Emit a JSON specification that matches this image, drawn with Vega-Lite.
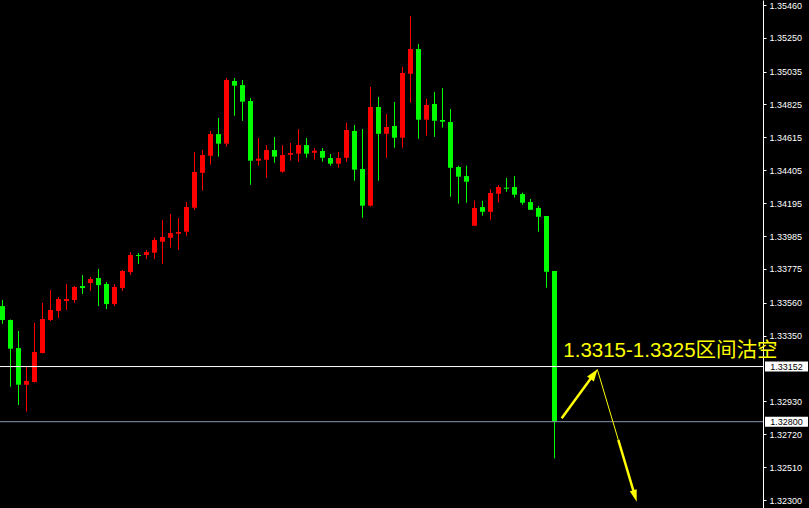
{
  "$schema": "https://vega.github.io/schema/vega-lite/v6.json",
  "width": 763,
  "height": 508,
  "autosize": "none",
  "padding": {"left": 0, "top": 0, "right": 46, "bottom": 0},
  "background": "#000000",
  "config": {
    "view": {"stroke": null},
    "axis": {"labelOverlap": false},
    "axisY": {"labelOverlap": false, "labelFlush": false, "labelBound": false, "grid": false, "title": null,
              "labelFont": "Liberation Sans", "labelFontSize": 9, "labelColor": "#ffffff",
              "tickColor": "#ffffff", "domainColor": "#ffffff", "tickSize": 3, "labelPadding": 3}
  },
  "data": {"values": [{}]},
  "datasets": {
    "candles": [
      {"i":0,"o":1.33538,"h":1.33577,"l":1.33425,"c":1.33449},
      {"i":1,"o":1.33449,"h":1.33452,"l":1.33023,"c":1.33266},
      {"i":2,"o":1.33270,"h":1.33379,"l":1.32906,"c":1.33036},
      {"i":3,"o":1.33036,"h":1.33151,"l":1.32864,"c":1.33060},
      {"i":4,"o":1.33053,"h":1.33430,"l":1.33050,"c":1.33245},
      {"i":5,"o":1.33238,"h":1.33558,"l":1.33236,"c":1.33455},
      {"i":6,"o":1.33449,"h":1.33641,"l":1.33443,"c":1.33513},
      {"i":7,"o":1.33507,"h":1.33596,"l":1.33462,"c":1.33583},
      {"i":8,"o":1.33570,"h":1.33679,"l":1.33513,"c":1.33583},
      {"i":9,"o":1.33577,"h":1.33666,"l":1.33558,"c":1.33660},
      {"i":10,"o":1.33666,"h":1.33736,"l":1.33615,"c":1.33653},
      {"i":11,"o":1.33685,"h":1.33724,"l":1.33634,"c":1.33711},
      {"i":12,"o":1.33717,"h":1.33775,"l":1.33538,"c":1.33672},
      {"i":13,"o":1.33679,"h":1.33692,"l":1.33519,"c":1.33551},
      {"i":14,"o":1.33551,"h":1.33679,"l":1.33538,"c":1.33660},
      {"i":15,"o":1.33653,"h":1.33768,"l":1.33634,"c":1.33762},
      {"i":16,"o":1.33755,"h":1.33883,"l":1.33736,"c":1.33864},
      {"i":17,"o":1.33864,"h":1.33877,"l":1.33807,"c":1.33858},
      {"i":18,"o":1.33864,"h":1.33896,"l":1.33838,"c":1.33883},
      {"i":19,"o":1.33879,"h":1.33977,"l":1.33838,"c":1.33960},
      {"i":20,"o":1.33949,"h":1.34087,"l":1.33808,"c":1.33979},
      {"i":21,"o":1.33974,"h":1.34126,"l":1.33911,"c":1.34004},
      {"i":22,"o":1.34000,"h":1.34100,"l":1.33898,"c":1.34011},
      {"i":23,"o":1.34013,"h":1.34202,"l":1.33987,"c":1.34170},
      {"i":24,"o":1.34166,"h":1.34522,"l":1.34153,"c":1.34394},
      {"i":25,"o":1.34389,"h":1.34534,"l":1.34275,"c":1.34502},
      {"i":26,"o":1.34498,"h":1.34656,"l":1.34441,"c":1.34636},
      {"i":27,"o":1.34636,"h":1.34739,"l":1.34492,"c":1.34575},
      {"i":28,"o":1.34575,"h":1.34994,"l":1.34555,"c":1.34981},
      {"i":29,"o":1.34975,"h":1.34994,"l":1.34753,"c":1.34945},
      {"i":30,"o":1.34949,"h":1.34981,"l":1.34721,"c":1.34843},
      {"i":31,"o":1.34847,"h":1.34866,"l":1.34313,"c":1.34466},
      {"i":32,"o":1.34466,"h":1.34611,"l":1.34434,"c":1.34479},
      {"i":33,"o":1.34472,"h":1.34566,"l":1.34358,"c":1.34534},
      {"i":34,"o":1.34534,"h":1.34617,"l":1.34453,"c":1.34492},
      {"i":35,"o":1.34396,"h":1.34566,"l":1.34389,"c":1.34502},
      {"i":36,"o":1.34504,"h":1.34579,"l":1.34466,"c":1.34515},
      {"i":37,"o":1.34511,"h":1.34668,"l":1.34460,"c":1.34566},
      {"i":38,"o":1.34566,"h":1.34611,"l":1.34485,"c":1.34511},
      {"i":39,"o":1.34517,"h":1.34547,"l":1.34472,"c":1.34530},
      {"i":40,"o":1.34528,"h":1.34547,"l":1.34460,"c":1.34485},
      {"i":41,"o":1.34483,"h":1.34509,"l":1.34434,"c":1.34447},
      {"i":42,"o":1.34447,"h":1.34522,"l":1.34421,"c":1.34483},
      {"i":43,"o":1.34485,"h":1.34707,"l":1.34460,"c":1.34662},
      {"i":44,"o":1.34656,"h":1.34694,"l":1.34338,"c":1.34409},
      {"i":45,"o":1.34413,"h":1.34668,"l":1.34102,"c":1.34179},
      {"i":46,"o":1.34179,"h":1.34937,"l":1.34172,"c":1.34809},
      {"i":47,"o":1.34809,"h":1.34873,"l":1.34338,"c":1.34638},
      {"i":48,"o":1.34638,"h":1.34764,"l":1.34485,"c":1.34681},
      {"i":49,"o":1.34688,"h":1.34841,"l":1.34549,"c":1.34613},
      {"i":50,"o":1.34613,"h":1.35064,"l":1.34549,"c":1.35026},
      {"i":51,"o":1.35021,"h":1.35390,"l":1.34836,"c":1.35179},
      {"i":52,"o":1.35179,"h":1.35211,"l":1.34606,"c":1.34728},
      {"i":53,"o":1.34728,"h":1.34860,"l":1.34626,"c":1.34822},
      {"i":54,"o":1.34828,"h":1.34905,"l":1.34619,"c":1.34721},
      {"i":55,"o":1.34726,"h":1.34930,"l":1.34677,"c":1.34715},
      {"i":56,"o":1.34713,"h":1.34796,"l":1.34236,"c":1.34421},
      {"i":57,"o":1.34426,"h":1.34434,"l":1.34192,"c":1.34364},
      {"i":58,"o":1.34368,"h":1.34434,"l":1.34198,"c":1.34332},
      {"i":59,"o":1.34051,"h":1.34211,"l":1.34051,"c":1.34164},
      {"i":60,"o":1.34170,"h":1.34211,"l":1.34115,"c":1.34140},
      {"i":61,"o":1.34140,"h":1.34285,"l":1.34089,"c":1.34260},
      {"i":62,"o":1.34255,"h":1.34311,"l":1.34198,"c":1.34298},
      {"i":63,"o":1.34294,"h":1.34356,"l":1.34268,"c":1.34287},
      {"i":64,"o":1.34298,"h":1.34368,"l":1.34230,"c":1.34249},
      {"i":65,"o":1.34253,"h":1.34262,"l":1.34185,"c":1.34198},
      {"i":66,"o":1.34202,"h":1.34222,"l":1.34153,"c":1.34153},
      {"i":67,"o":1.34164,"h":1.34177,"l":1.34013,"c":1.34108},
      {"i":68,"o":1.34113,"h":1.34113,"l":1.33655,"c":1.33757},
      {"i":69,"o":1.33762,"h":1.33762,"l":1.32566,"c":1.32800}
    ],
    "levels": [
      {"price": 1.33152, "label": "1.33152"},
      {"price": 1.32800, "label": "1.32800"}
    ]
  },
  "layer": [
    {
      "data": {"name": "candles"},
      "mark": {"type": "rule", "strokeWidth": 1},
      "encoding": {
        "x": {"field": "i", "type": "quantitative", "scale": {"domain": [-0.3125, 95.0625], "nice": false, "zero": false, "padding": 0}, "axis": null},
        "y": {"field": "l", "type": "quantitative", "scale": {"domain": [1.32249, 1.35492], "nice": false, "zero": false},
              "axis": {"orient": "right", "title": null,
                       "values": [1.35460, 1.35250, 1.35035, 1.34825, 1.34615, 1.34405, 1.34195, 1.33985, 1.33775, 1.33560, 1.33350, 1.32930, 1.32720, 1.32510, 1.32300],
                       "format": ".5f", "labelOverlap": false}},
        "y2": {"field": "h"},
        "color": {"condition": {"test": "datum.c > datum.o", "value": "#ff0000"}, "value": "#00ff00"}
      }
    },
    {
      "data": {"name": "candles"},
      "mark": {"type": "bar", "width": 5},
      "encoding": {
        "x": {"field": "i", "type": "quantitative", "scale": {"domain": [-0.3125, 95.0625], "nice": false, "zero": false, "padding": 0}, "axis": null},
        "y": {"field": "o", "type": "quantitative", "scale": {"domain": [1.32249, 1.35492], "nice": false, "zero": false},
              "axis": {"orient": "right", "title": null,
                       "values": [1.35460, 1.35250, 1.35035, 1.34825, 1.34615, 1.34405, 1.34195, 1.33985, 1.33775, 1.33560, 1.33350, 1.32930, 1.32720, 1.32510, 1.32300],
                       "format": ".5f", "labelOverlap": false}},
        "y2": {"field": "c"},
        "color": {"condition": {"test": "datum.c > datum.o", "value": "#ff0000"}, "value": "#00ff00"}
      }
    },
    {
      "mark": {"type": "rule", "color": "#ffffff", "strokeWidth": 1},
      "encoding": {
        "y": {"datum": 1.33152, "type": "quantitative", "scale": {"domain": [1.32249, 1.35492], "nice": false, "zero": false},
              "axis": {"orient": "right", "title": null,
                       "values": [1.35460, 1.35250, 1.35035, 1.34825, 1.34615, 1.34405, 1.34195, 1.33985, 1.33775, 1.33560, 1.33350, 1.32930, 1.32720, 1.32510, 1.32300],
                       "format": ".5f", "labelOverlap": false}}
      }
    },
    {
      "mark": {"type": "rule", "color": "#8797ad", "strokeWidth": 1},
      "encoding": {
        "y": {"datum": 1.32800, "type": "quantitative", "scale": {"domain": [1.32249, 1.35492], "nice": false, "zero": false},
              "axis": {"orient": "right", "title": null,
                       "values": [1.35460, 1.35250, 1.35035, 1.34825, 1.34615, 1.34405, 1.34195, 1.33985, 1.33775, 1.33560, 1.33350, 1.32930, 1.32720, 1.32510, 1.32300],
                       "format": ".5f", "labelOverlap": false}}
      }
    },
    {
      "data": {"name": "levels"},
      "mark": {"type": "point", "filled": true, "color": "#ffffff", "opacity": 1, "size": 1849, "shape": "M-1,-0.23L1,-0.23L1,0.23L-1,0.23Z", "clip": false},
      "encoding": {
        "x": {"datum": 98.0, "type": "quantitative", "scale": {"domain": [-0.3125, 95.0625], "nice": false, "zero": false, "padding": 0}, "axis": null},
        "y": {"field": "price", "type": "quantitative", "scale": {"domain": [1.32249, 1.35492], "nice": false, "zero": false},
              "axis": {"orient": "right", "title": null,
                       "values": [1.35460, 1.35250, 1.35035, 1.34825, 1.34615, 1.34405, 1.34195, 1.33985, 1.33775, 1.33560, 1.33350, 1.32930, 1.32720, 1.32510, 1.32300],
                       "format": ".5f", "labelOverlap": false}}
      }
    },
    {
      "data": {"name": "levels"},
      "mark": {"type": "text", "color": "#000000", "font": "Liberation Sans", "fontSize": 9, "align": "center", "baseline": "middle", "clip": false},
      "encoding": {
        "x": {"datum": 98.0, "type": "quantitative", "scale": {"domain": [-0.3125, 95.0625], "nice": false, "zero": false, "padding": 0}, "axis": null},
        "y": {"field": "price", "type": "quantitative", "scale": {"domain": [1.32249, 1.35492], "nice": false, "zero": false},
              "axis": {"orient": "right", "title": null,
                       "values": [1.35460, 1.35250, 1.35035, 1.34825, 1.34615, 1.34405, 1.34195, 1.33985, 1.33775, 1.33560, 1.33350, 1.32930, 1.32720, 1.32510, 1.32300],
                       "format": ".5f", "labelOverlap": false}},
        "text": {"field": "label"}
      }
    },
    {
      "mark": {"type": "rule", "color": "#ffff00", "strokeWidth": 2.5},
      "encoding": {
        "x": {"datum": 69.90, "type": "quantitative", "scale": {"domain": [-0.3125, 95.0625], "nice": false, "zero": false, "padding": 0}, "axis": null},
        "y": {"datum": 1.32822, "type": "quantitative", "scale": {"domain": [1.32249, 1.35492], "nice": false, "zero": false},
              "axis": {"orient": "right", "title": null,
                       "values": [1.35460, 1.35250, 1.35035, 1.34825, 1.34615, 1.34405, 1.34195, 1.33985, 1.33775, 1.33560, 1.33350, 1.32930, 1.32720, 1.32510, 1.32300],
                       "format": ".5f", "labelOverlap": false}},
        "x2": {"datum": 73.94},
        "y2": {"datum": 1.33104}
      }
    },
    {
      "mark": {"type": "point", "filled": true, "color": "#ffff00", "opacity": 1, "size": 144, "shape": "M0,-1L0.7,1L-0.7,1Z", "angle": 36},
      "encoding": {
        "x": {"datum": 73.94, "type": "quantitative", "scale": {"domain": [-0.3125, 95.0625], "nice": false, "zero": false, "padding": 0}, "axis": null},
        "y": {"datum": 1.33104, "type": "quantitative", "scale": {"domain": [1.32249, 1.35492], "nice": false, "zero": false},
              "axis": {"orient": "right", "title": null,
                       "values": [1.35460, 1.35250, 1.35035, 1.34825, 1.34615, 1.34405, 1.34195, 1.33985, 1.33775, 1.33560, 1.33350, 1.32930, 1.32720, 1.32510, 1.32300],
                       "format": ".5f", "labelOverlap": false}}
      }
    },
    {
      "mark": {"type": "rule", "color": "#ffff00", "strokeWidth": 1},
      "encoding": {
        "x": {"datum": 74.35, "type": "quantitative", "scale": {"domain": [-0.3125, 95.0625], "nice": false, "zero": false, "padding": 0}, "axis": null},
        "y": {"datum": 1.33134, "type": "quantitative", "scale": {"domain": [1.32249, 1.35492], "nice": false, "zero": false},
              "axis": {"orient": "right", "title": null,
                       "values": [1.35460, 1.35250, 1.35035, 1.34825, 1.34615, 1.34405, 1.34195, 1.33985, 1.33775, 1.33560, 1.33350, 1.32930, 1.32720, 1.32510, 1.32300],
                       "format": ".5f", "labelOverlap": false}},
        "x2": {"datum": 76.98},
        "y2": {"datum": 1.32683}
      }
    },
    {
      "mark": {"type": "rule", "color": "#ffff00", "strokeWidth": 2.5},
      "encoding": {
        "x": {"datum": 76.98, "type": "quantitative", "scale": {"domain": [-0.3125, 95.0625], "nice": false, "zero": false, "padding": 0}, "axis": null},
        "y": {"datum": 1.32683, "type": "quantitative", "scale": {"domain": [1.32249, 1.35492], "nice": false, "zero": false},
              "axis": {"orient": "right", "title": null,
                       "values": [1.35460, 1.35250, 1.35035, 1.34825, 1.34615, 1.34405, 1.34195, 1.33985, 1.33775, 1.33560, 1.33350, 1.32930, 1.32720, 1.32510, 1.32300],
                       "format": ".5f", "labelOverlap": false}},
        "x2": {"datum": 79.06},
        "y2": {"datum": 1.32325}
      }
    },
    {
      "mark": {"type": "point", "filled": true, "color": "#ffff00", "opacity": 1, "size": 144, "shape": "M0,-1L0.6,1L-0.6,1Z", "angle": 163.4},
      "encoding": {
        "x": {"datum": 79.06, "type": "quantitative", "scale": {"domain": [-0.3125, 95.0625], "nice": false, "zero": false, "padding": 0}, "axis": null},
        "y": {"datum": 1.32325, "type": "quantitative", "scale": {"domain": [1.32249, 1.35492], "nice": false, "zero": false},
              "axis": {"orient": "right", "title": null,
                       "values": [1.35460, 1.35250, 1.35035, 1.34825, 1.34615, 1.34405, 1.34195, 1.33985, 1.33775, 1.33560, 1.33350, 1.32930, 1.32720, 1.32510, 1.32300],
                       "format": ".5f", "labelOverlap": false}}
      }
    },
    {
      "mark": {"type": "text", "color": "#ffff00", "font": "Liberation Sans, Noto Sans CJK SC", "fontSize": 20.5, "align": "left", "baseline": "alphabetic", "clip": false},
      "encoding": {
        "x": {"datum": 70.10, "type": "quantitative", "scale": {"domain": [-0.3125, 95.0625], "nice": false, "zero": false, "padding": 0}, "axis": null},
        "y": {"datum": 1.33213, "type": "quantitative", "scale": {"domain": [1.32249, 1.35492], "nice": false, "zero": false},
              "axis": {"orient": "right", "title": null,
                       "values": [1.35460, 1.35250, 1.35035, 1.34825, 1.34615, 1.34405, 1.34195, 1.33985, 1.33775, 1.33560, 1.33350, 1.32930, 1.32720, 1.32510, 1.32300],
                       "format": ".5f", "labelOverlap": false}},
        "text": {"value": "1.3315-1.3325区间沽空"}
      }
    }
  ]
}
